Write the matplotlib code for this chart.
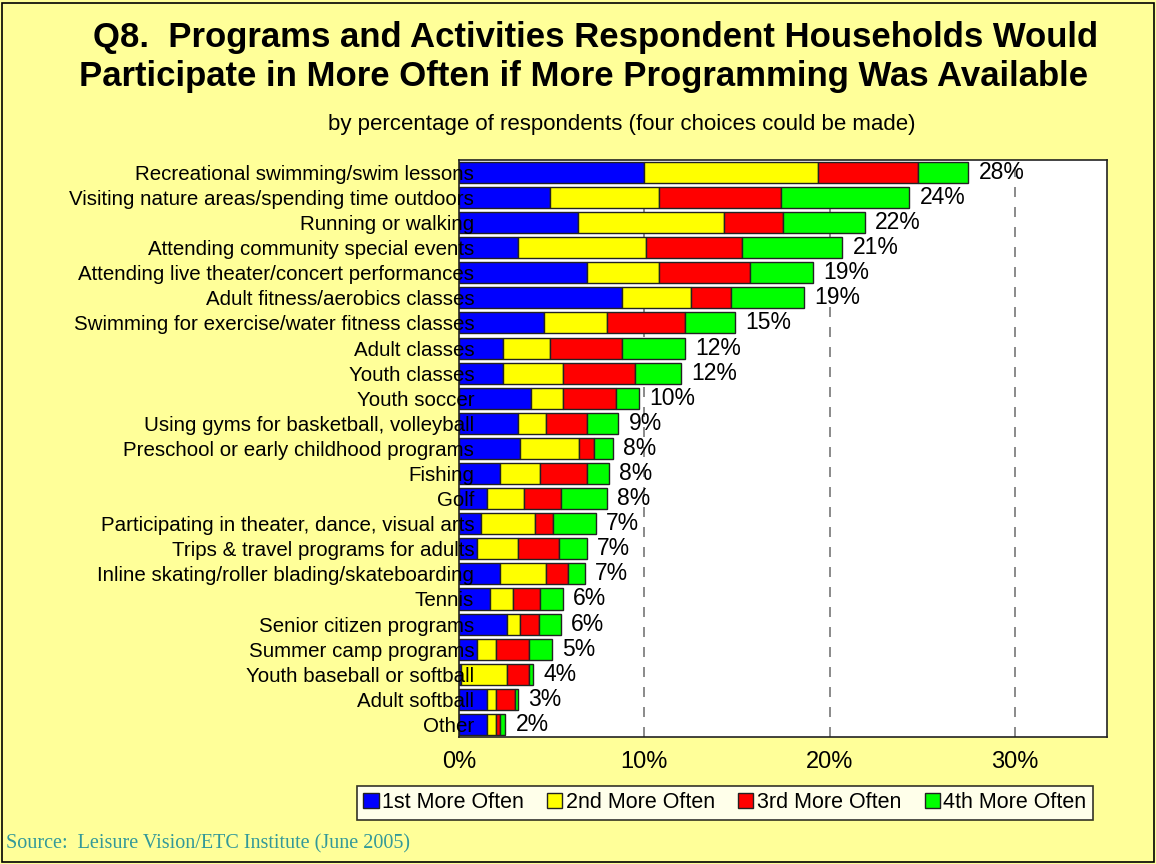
"""Q8 programs/activities households would participate in more often - stacked bars."""

import matplotlib
matplotlib.use("Agg")
import matplotlib.pyplot as plt
import numpy as np
from matplotlib.patches import Rectangle

categories = [
    "Recreational swimming/swim lessons",
    "Visiting nature areas/spending time outdoors",
    "Running or walking",
    "Attending community special events",
    "Attending live theater/concert performances",
    "Adult fitness/aerobics classes",
    "Swimming for exercise/water fitness classes",
    "Adult classes",
    "Youth classes",
    "Youth soccer",
    "Using gyms for basketball, volleyball",
    "Preschool or early childhood programs",
    "Fishing",
    "Golf",
    "Participating in theater, dance, visual arts",
    "Trips & travel programs for adults",
    "Inline skating/roller blading/skateboarding",
    "Tennis",
    "Senior citizen programs",
    "Summer camp programs",
    "Youth baseball or softball",
    "Adult softball",
    "Other",
]
first = [10.0, 4.9, 6.4, 3.2, 6.9, 8.8, 4.6, 2.4, 2.4, 3.9, 3.2, 3.3, 2.2,
         1.5, 1.2, 1.0, 2.2, 1.7, 2.6, 1.0, 0.1, 1.5, 1.5]
second = [9.4, 5.9, 7.9, 6.9, 3.9, 3.7, 3.4, 2.5, 3.2, 1.7, 1.5, 3.2, 2.2,
          2.0, 2.9, 2.2, 2.5, 1.2, 0.7, 1.0, 2.5, 0.5, 0.5]
third = [5.4, 6.6, 3.2, 5.2, 4.9, 2.2, 4.2, 3.9, 3.9, 2.9, 2.2, 0.8, 2.5,
         2.0, 1.0, 2.2, 1.2, 1.5, 1.0, 1.8, 1.2, 1.0, 0.2]
fourth = [2.7, 6.9, 4.4, 5.4, 3.4, 3.9, 2.7, 3.4, 2.5, 1.2, 1.7, 1.0, 1.2,
          2.5, 2.3, 1.5, 0.9, 1.2, 1.2, 1.2, 0.2, 0.2, 0.3]
total_labels = [28, 24, 22, 21, 19, 19, 15, 12, 12, 10, 9, 8, 8, 8, 7, 7, 7,
                6, 6, 5, 4, 3, 2]
series_names = ["1st More Often", "2nd More Often", "3rd More Often", "4th More Often"]
series_colors = ["#0000FF", "#FFFF00", "#FF0000", "#00FF00"]
xticks = [0, 10, 20, 30]

plt.rcParams["font.family"] = ["Liberation Sans", "DejaVu Sans"]

fig = plt.figure(figsize=(11.56, 8.64), dpi=100)
fig.patch.set_facecolor("#FFFF99")
fig.patches.append(Rectangle((0.002, 0.002), 0.996, 0.994, transform=fig.transFigure,
                             fill=False, edgecolor="black", linewidth=1.2))

ax = fig.add_axes([0.397, 0.147, 0.561, 0.668])
ax.set_facecolor("white")

y = np.arange(len(categories))
left = np.zeros(len(categories))
for vals, name, color in zip([first, second, third, fourth], series_names, series_colors):
    ax.barh(y, vals, left=left, height=0.84, color=color, edgecolor="#222222",
            linewidth=1.0, label=name, zorder=2)
    left += np.array(vals)

for yi, tot, lab in zip(y, left, total_labels):
    ax.text(tot + 0.55, yi, f"{lab}%", va="center", ha="left", fontsize=16.5, zorder=4)

ax.set_xlim(0, 35)
ax.set_ylim(len(categories) - 0.5, -0.5)
ax.set_xticks(xticks)
ax.set_xticklabels([f"{t}%" for t in xticks], fontsize=17)
ax.set_yticks(y)
ax.set_yticklabels(categories, fontsize=14.8)
ax.tick_params(axis="y", length=0, pad=-11)
ax.tick_params(axis="x", length=0, pad=10)
ax.yaxis.set_zorder(5)
for t in xticks[1:]:
    ax.axvline(t, color="#777777", linestyle=(0, (6, 6)), linewidth=1.2, zorder=1)
for s in ax.spines.values():
    s.set_color("#222222")
    s.set_linewidth(1.2)

fig.text(0.515, 0.946, "Q8.  Programs and Activities Respondent Households Would",
         ha="center", va="baseline", fontsize=25, fontweight="bold")
fig.text(0.505, 0.900, "Participate in More Often if More Programming Was Available",
         ha="center", va="baseline", fontsize=25, fontweight="bold")
fig.text(0.538, 0.850, "by percentage of respondents (four choices could be made)",
         ha="center", va="baseline", fontsize=16)

leg = fig.legend(loc="center", bbox_to_anchor=(0.627, 0.071), ncol=4, fontsize=15.5,
                 frameon=True, fancybox=False, edgecolor="black",
                 handlelength=0.7, handleheight=0.7, handletextpad=0.15,
                 columnspacing=1.1, borderpad=0.3)
leg.get_frame().set_linewidth(1.2)

fig.text(0.005, 0.012, "Source:  Leisure Vision/ETC Institute (June 2005)",
         ha="left", va="bottom", fontsize=14.5, color="#339999",
         family=["Liberation Serif", "DejaVu Serif"])

fig.savefig("out.png", dpi=100, facecolor=fig.get_facecolor())
